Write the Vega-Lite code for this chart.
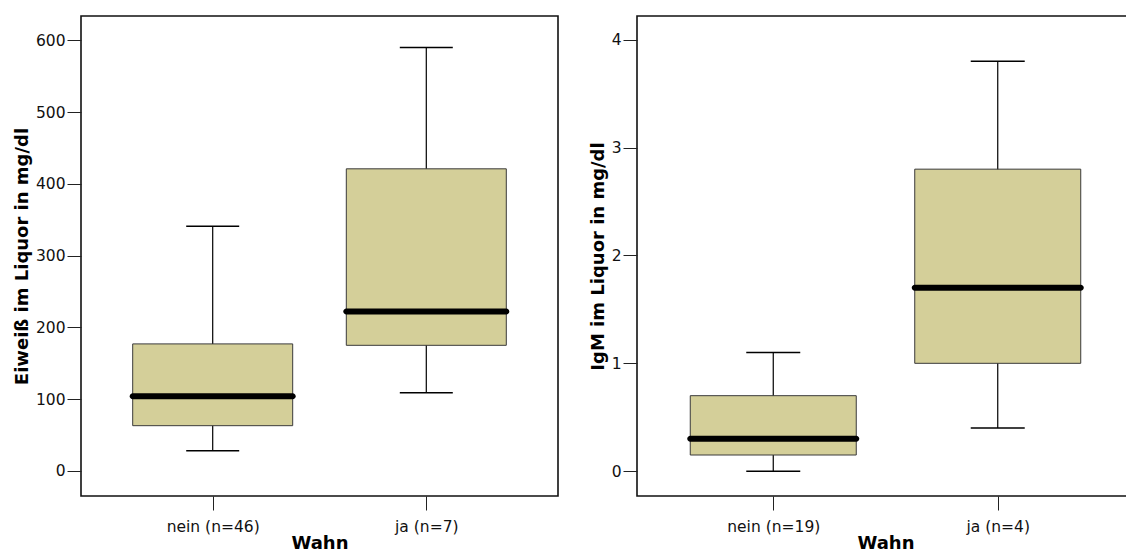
{
  "$schema": "https://vega.github.io/schema/vega-lite/v6.json",
  "padding": {"left": 12, "top": 15, "right": 0, "bottom": 0},
  "bounds": "flush",
  "spacing": 79,
  "background": "#ffffff",
  "config": {
    "view": {"stroke": "#111111", "strokeWidth": 1.6},
    "font": "DejaVu Sans",
    "tick": {"opacity": 1},
    "bar": {"opacity": 1},
    "axis": {
      "labelFont": "DejaVu Sans", "labelFontSize": 15.5, "labelColor": "#111111",
      "titleFont": "DejaVu Sans", "titleFontSize": 18, "titleFontWeight": "bold", "titleColor": "#000000",
      "tickSize": 14, "tickColor": "#222222", "tickWidth": 1,
      "domain": false, "grid": false, "labelPadding": 2, "titlePadding": 4
    }
  },
  "datasets": {
    "box": [
      {"panel": "Eiweiss", "group": "nein (n=46)", "lower": 28, "q1": 63, "median": 104, "q3": 177, "upper": 341},
      {"panel": "Eiweiss", "group": "ja (n=7)", "lower": 109, "q1": 175, "median": 222, "q3": 421, "upper": 590},
      {"panel": "IgM", "group": "nein (n=19)", "lower": 0, "q1": 0.15, "median": 0.3, "q3": 0.7, "upper": 1.1},
      {"panel": "IgM", "group": "ja (n=4)", "lower": 0.4, "q1": 1.0, "median": 1.7, "q3": 2.8, "upper": 3.8}
    ]
  },
  "hconcat": [
    {
      "width": 477, "height": 480,
      "data": {"name": "box"},
      "transform": [{"filter": "datum.panel == 'Eiweiss'"}],
      "encoding": {
        "x": {"field": "group", "type": "nominal", "sort": ["nein (n=46)", "ja (n=7)"],
              "scale": {"type": "point", "padding": 0.6166},
              "axis": {"title": "Wahn", "labelAngle": 0, "labelPadding": 9, "titlePadding": 0}}
      },
      "layer": [
        {"mark": {"type": "rule", "color": "#000000", "strokeWidth": 1.2},
         "encoding": {"y": {"field": "lower", "type": "quantitative", "title": "Eiweiß im Liquor in mg/dl",
                            "scale": {"domain": [-35, 634], "nice": false, "zero": false},
                            "axis": {"values": [0, 100, 200, 300, 400, 500, 600], "format": "d"}},
                      "y2": {"field": "upper"}}},
        {"mark": {"type": "bar", "width": 160, "fill": "#d4cf99", "stroke": "#3a3a3a", "strokeWidth": 1},
         "encoding": {"y": {"field": "q1", "type": "quantitative", "title": "Eiweiß im Liquor in mg/dl"}, "y2": {"field": "q3"}}},
        {"mark": {"type": "tick", "size": 166, "thickness": 6, "color": "#000000", "cornerRadius": 3},
         "encoding": {"y": {"field": "median", "type": "quantitative", "title": "Eiweiß im Liquor in mg/dl"}}},
        {"mark": {"type": "tick", "size": 53, "thickness": 1.5, "color": "#000000"},
         "encoding": {"y": {"field": "lower", "type": "quantitative", "title": "Eiweiß im Liquor in mg/dl"}}},
        {"mark": {"type": "tick", "size": 53, "thickness": 1.5, "color": "#000000"},
         "encoding": {"y": {"field": "upper", "type": "quantitative", "title": "Eiweiß im Liquor in mg/dl"}}}
      ]
    },
    {
      "width": 497, "height": 480,
      "data": {"name": "box"},
      "transform": [{"filter": "datum.panel == 'IgM'"}],
      "encoding": {
        "x": {"field": "group", "type": "nominal", "sort": ["nein (n=19)", "ja (n=4)"],
              "scale": {"type": "point", "padding": 0.607},
              "axis": {"title": "Wahn", "labelAngle": 0, "labelPadding": 9, "titlePadding": 0}}
      },
      "layer": [
        {"mark": {"type": "rule", "color": "#000000", "strokeWidth": 1.2},
         "encoding": {"y": {"field": "lower", "type": "quantitative", "title": "IgM im Liquor in mg/dl",
                            "scale": {"domain": [-0.23, 4.22], "nice": false, "zero": false},
                            "axis": {"values": [0, 1, 2, 3, 4], "format": "d"}},
                      "y2": {"field": "upper"}}},
        {"mark": {"type": "bar", "width": 166, "fill": "#d4cf99", "stroke": "#3a3a3a", "strokeWidth": 1},
         "encoding": {"y": {"field": "q1", "type": "quantitative", "title": "IgM im Liquor in mg/dl"}, "y2": {"field": "q3"}}},
        {"mark": {"type": "tick", "size": 172, "thickness": 6, "color": "#000000", "cornerRadius": 3},
         "encoding": {"y": {"field": "median", "type": "quantitative", "title": "IgM im Liquor in mg/dl"}}},
        {"mark": {"type": "tick", "size": 54, "thickness": 1.5, "color": "#000000"},
         "encoding": {"y": {"field": "lower", "type": "quantitative", "title": "IgM im Liquor in mg/dl"}}},
        {"mark": {"type": "tick", "size": 54, "thickness": 1.5, "color": "#000000"},
         "encoding": {"y": {"field": "upper", "type": "quantitative", "title": "IgM im Liquor in mg/dl"}}}
      ]
    }
  ]
}
